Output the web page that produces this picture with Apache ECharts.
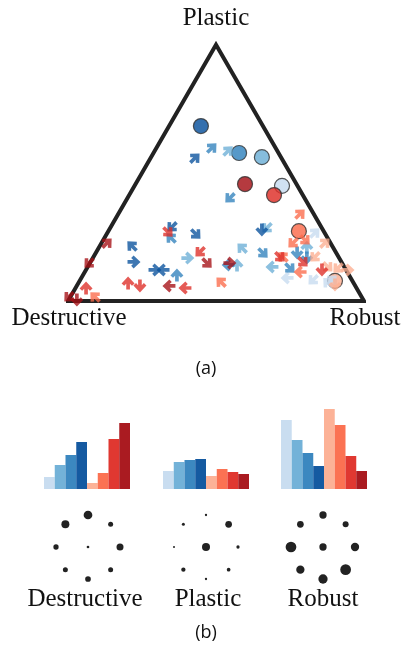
<!DOCTYPE html>
<html><head><meta charset="utf-8">
<script src="https://cdn.jsdelivr.net/npm/echarts@6/dist/echarts.min.js"></script>
<style>html,body{margin:0;padding:0;background:#fff}#c{width:402px;height:645px}</style>
</head><body><div id="c"></div>
<script>
// ---- data ----
const categories = ['B1', 'B2', 'B3', 'B4', 'R1', 'R2', 'R3', 'R4'];
const palette = ['#c6dbef', '#6baed6', '#3182bd', '#08519c', '#fcae91', '#fb6a4a', '#de2d26', '#a50f15'];
const groups = ['Destructive', 'Plastic', 'Robust'];
const vertexLabels = ['Destructive', 'Robust', 'Plastic'];

// circle (centroid) positions in triangle coordinates, one per category
const circleX = [0.723, 0.655, 0.578, 0.449, 0.902, 0.780, 0.696, 0.598];
const circleY = [0.389, 0.486, 0.500, 0.591, 0.068, 0.236, 0.358, 0.395];

// arrows per category: [x, y, direction in degrees]
const arrows0 = [[0.740, 0.078, 180], [0.834, 0.230, 45], [0.828, 0.071, 225], [0.892, 0.071, 45], [0.878, 0.062, 135]];
const arrows1 = [[0.405, 0.145, 0], [0.541, 0.507, 45], [0.588, 0.179, 135], [0.672, 0.247, 225], [0.571, 0.122, 90], [0.689, 0.115, 180], [0.807, 0.182, 90]];
const arrows2 = [[0.348, 0.213, 135], [0.368, 0.088, 90], [0.486, 0.517, 45], [0.547, 0.348, 225], [0.659, 0.162, 315], [0.774, 0.162, 270], [0.807, 0.145, 270], [0.750, 0.111, 315], [0.541, 0.122, 180]];
const arrows3 = [[0.216, 0.186, 135], [0.223, 0.132, 0], [0.351, 0.250, 225], [0.432, 0.226, 315], [0.294, 0.105, 0], [0.321, 0.105, 180], [0.655, 0.240, 270], [0.429, 0.483, 45]];
const arrows4 = [[0.868, 0.196, 45], [0.834, 0.149, 225], [0.878, 0.115, 315], [0.912, 0.111, 225], [0.946, 0.105, 0], [0.902, 0.054, 270]];
const arrows5 = [[0.091, 0.014, 135], [0.760, 0.196, 225], [0.801, 0.206, 315], [0.784, 0.098, 180], [0.726, 0.149, 135], [0.517, 0.064, 135], [0.784, 0.294, 45]];
const arrows6 = [[0.061, 0.044, 90], [0.203, 0.061, 90], [0.243, 0.051, 270], [0.395, 0.044, 180], [0.446, 0.166, 225], [0.338, 0.233, 315], [0.716, 0.149, 315], [0.794, 0.132, 315], [0.858, 0.105, 270]];
const arrows7 = [[0.132, 0.196, 45], [0.071, 0.128, 225], [0.003, 0.014, 225], [0.030, 0.003, 270], [0.470, 0.128, 315], [0.341, 0.051, 180], [0.547, 0.128, 0]];
const arrowSets = [arrows0, arrows1, arrows2, arrows3, arrows4, arrows5, arrows6, arrows7];

// bar heights per group (same 8 categories)
const barsDestructive = [12, 24, 34, 47, 6, 16, 50, 66];
const barsPlastic = [18, 27, 29, 30, 13, 20, 17, 15];
const barsRobust = [69, 49, 36, 23, 80, 64, 33, 18];

// dot sizes: top, top-right, right, bottom-right, bottom, bottom-left, left, top-left, centre
const dotsDestructive = [8.7, 5, 7, 5, 5.7, 5, 5.3, 8, 2.7];
const dotsPlastic = [2.3, 6.7, 3.3, 3.7, 2.3, 4.3, 2, 3, 8];
const dotsRobust = [7.3, 6, 8.3, 10.7, 9.3, 8.3, 10.7, 6.7, 7.3];

// ---- layout ----
const serif = '"Liberation Serif", "DejaVu Serif", serif';
const H = Math.sqrt(3) / 2;
const arrowPath = 'path://M6,0 L12,6.4 L9.6,8.6 L7.7,6.7 L7.7,12 L4.3,12 L4.3,6.7 L2.4,8.6 L0,6.4 Z';
const dotAngles = [90, 45, 0, -45, -90, -135, 180, 135];

const grids = [{ left: 68, top: 5, width: 296, height: 296 }];
const xAxes = [{ gridIndex: 0, type: 'value', min: 0, max: 1, show: false }];
const yAxes = [{ gridIndex: 0, type: 'value', min: 0, max: 1, show: false }];
const series = [];

// triangle frame
series.push({
  type: 'line', xAxisIndex: 0, yAxisIndex: 0, symbol: 'none', silent: true,
  data: [[0, 0], [1, 0], [0.5, H], [0, 0], [1, 0]],
  lineStyle: { color: '#222', width: 4, join: 'miter', cap: 'butt' }, z: 1
});
// circles
series.push({
  type: 'scatter', xAxisIndex: 0, yAxisIndex: 0, symbol: 'circle', symbolSize: 15, z: 3,
  data: circleX.map((x, i) => ({ value: [x, circleY[i]], itemStyle: { color: palette[i], opacity: 0.82, borderColor: '#333', borderWidth: 1.2 } }))
});
// arrows
arrowSets.forEach((set, i) => {
  series.push({
    type: 'scatter', xAxisIndex: 0, yAxisIndex: 0, symbol: arrowPath, symbolSize: 13, z: 4,
    itemStyle: { color: palette[i], opacity: 0.78 },
    data: set.map(a => ({ value: [a[0], a[1]], symbolRotate: a[2] - 90 }))
  });
});

// bar groups
const barSets = [barsDestructive, barsPlastic, barsRobust];
const barLefts = [44, 163, 281];
barSets.forEach((vals, g) => {
  const gi = grids.length;
  grids.push({ left: barLefts[g], top: 389, width: 86, height: 100 });
  xAxes.push({ gridIndex: gi, type: 'category', data: categories, show: false });
  yAxes.push({ gridIndex: gi, type: 'value', min: 0, max: 100, show: false });
  series.push({
    type: 'bar', xAxisIndex: gi, yAxisIndex: gi, barCategoryGap: '0%', silent: true,
    data: vals.map((v, i) => ({ value: v, itemStyle: { color: palette[i], opacity: 0.95 } }))
  });
});

// dot rosettes
const dotSets = [dotsDestructive, dotsPlastic, dotsRobust];
const dotCenters = [88, 206, 323];
dotSets.forEach((sizes, g) => {
  const gi = grids.length;
  grids.push({ left: dotCenters[g] - 32, top: 515, width: 64, height: 64 });
  xAxes.push({ gridIndex: gi, type: 'value', min: -1, max: 1, show: false });
  yAxes.push({ gridIndex: gi, type: 'value', min: -1, max: 1, show: false });
  series.push({
    type: 'scatter', xAxisIndex: gi, yAxisIndex: gi, silent: true,
    itemStyle: { color: '#222', opacity: 1 },
    data: sizes.map((s, i) => {
      const p = i < 8 ? [Math.cos(dotAngles[i] * Math.PI / 180), Math.sin(dotAngles[i] * Math.PI / 180)] : [0, 0];
      return { value: p, symbolSize: s };
    })
  });
});

const txt = (t, x, y, size, font) => ({
  type: 'text', x: x, y: y, silent: true,
  style: { text: t, fontSize: size, fontFamily: font, fill: '#111', align: 'center', verticalAlign: 'middle' }
});
const graphics = [
  txt(vertexLabels[2], 216, 18, 25, serif),
  txt(vertexLabels[0], 69, 318, 25, serif),
  txt(vertexLabels[1], 365, 318, 25, serif),
  txt('(a)', 206, 369, 18, '"Open Sans", sans-serif'),
  txt(groups[0], 85, 599, 25, serif),
  txt(groups[1], 208, 599, 25, serif),
  txt(groups[2], 323, 599, 25, serif),
  txt('(b)', 206, 633, 18, '"Open Sans", sans-serif')
];

const chart = echarts.init(document.getElementById('c'), null, { renderer: 'canvas' });
chart.setOption({
  animation: false,
  backgroundColor: '#fff',
  grid: grids, xAxis: xAxes, yAxis: yAxes, series: series,
  graphic: graphics
});
</script></body></html>
